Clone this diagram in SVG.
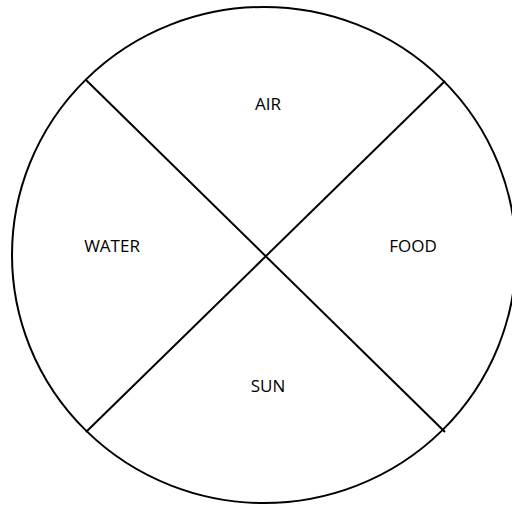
<svg xmlns="http://www.w3.org/2000/svg" width="512" height="506" viewBox="0 0 512 506">
<style>
.ln{stroke:#000;stroke-width:2;fill:none}
.t{font-family:"Open Sans","Liberation Sans",sans-serif;font-size:17px;fill:#000;text-anchor:middle}
</style>
<rect width="512" height="506" fill="#fff"/>
<g id="connectors">
<ellipse class="ln" cx="264" cy="255" rx="252" ry="248"/>
<line class="ln" x1="86" y1="80" x2="445" y2="432"/>
<line class="ln" x1="445" y1="81" x2="86" y2="432"/>
</g>
<g id="air"><text class="t" x="268" y="110">AIR</text></g>
<g id="water"><text class="t" x="112" y="252">WATER</text></g>
<g id="food"><text class="t" x="413" y="252">FOOD</text></g>
<g id="sun"><text class="t" x="268" y="392">SUN</text></g>
</svg>
